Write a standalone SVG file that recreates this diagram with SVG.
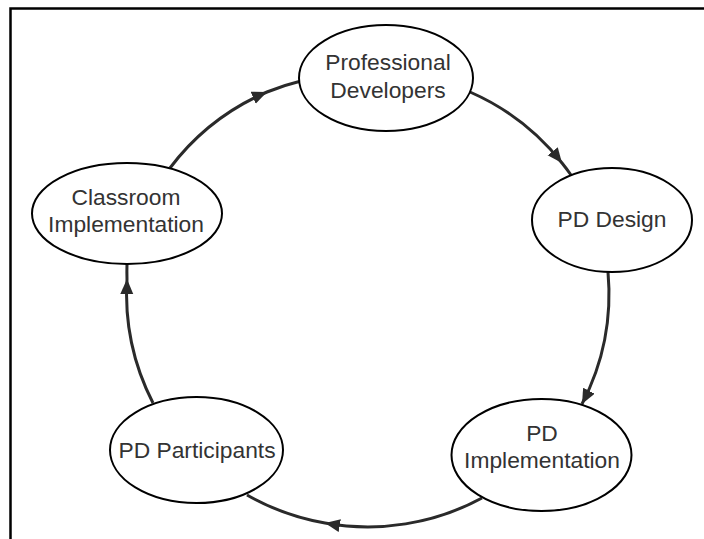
<svg xmlns="http://www.w3.org/2000/svg" width="704" height="539" viewBox="0 0 704 539">
<style>
.frame{fill:none;stroke:#000;stroke-width:2.5}
.node ellipse{fill:#fff;stroke:#000;stroke-width:2}
.node text{font-family:"Liberation Sans",Arial,sans-serif;font-size:22.8px;fill:#333;text-anchor:middle}
.conn path{fill:none;stroke:#2a2a2a;stroke-width:3}
</style>
<defs>
<marker id="arr" markerUnits="userSpaceOnUse" markerWidth="17" markerHeight="14" refX="15" refY="6.5" orient="auto">
<path d="M0,0 L15,6.5 L0,13 z" fill="#2a2a2a"/>
</marker>
</defs>
<rect width="704" height="539" fill="#fff"/>
<path class="frame" d="M10.5,539 L10.5,8.5 L704,8.5"/>
<g id="connectors" class="conn">
<path d="M470,92 A240,240 0 0 1 562,163 A240,240 0 0 1 571,175" marker-mid="url(#arr)"/>
<path d="M608,272 A240,240 0 0 1 582,404" marker-end="url(#arr)"/>
<path d="M482,498 A240,240 0 0 1 325,523 A240,240 0 0 1 247,495" marker-mid="url(#arr)"/>
<path d="M153,403 A240,240 0 0 1 127,279 A240,240 0 0 1 127,264" marker-mid="url(#arr)"/>
<path d="M170,168 A240,240 0 0 1 267,92 A240,240 0 0 1 301,81" marker-mid="url(#arr)"/>
</g>
<g id="professional-developers" class="node">
<ellipse cx="386" cy="78" rx="87" ry="53"/>
<text x="388" y="70">Professional</text>
<text x="388" y="98">Developers</text>
</g>
<g id="pd-design" class="node">
<ellipse cx="612" cy="220" rx="80" ry="52"/>
<text x="612" y="227">PD Design</text>
</g>
<g id="pd-implementation" class="node">
<ellipse cx="541.5" cy="455" rx="90" ry="56"/>
<text x="542" y="441">PD</text>
<text x="542" y="468">Implementation</text>
</g>
<g id="pd-participants" class="node">
<ellipse cx="196.5" cy="450" rx="86.5" ry="53"/>
<text x="197" y="458">PD Participants</text>
</g>
<g id="classroom-implementation" class="node">
<ellipse cx="127" cy="213.5" rx="95" ry="50.5"/>
<text x="126" y="205">Classroom</text>
<text x="126" y="232">Implementation</text>
</g>
</svg>
